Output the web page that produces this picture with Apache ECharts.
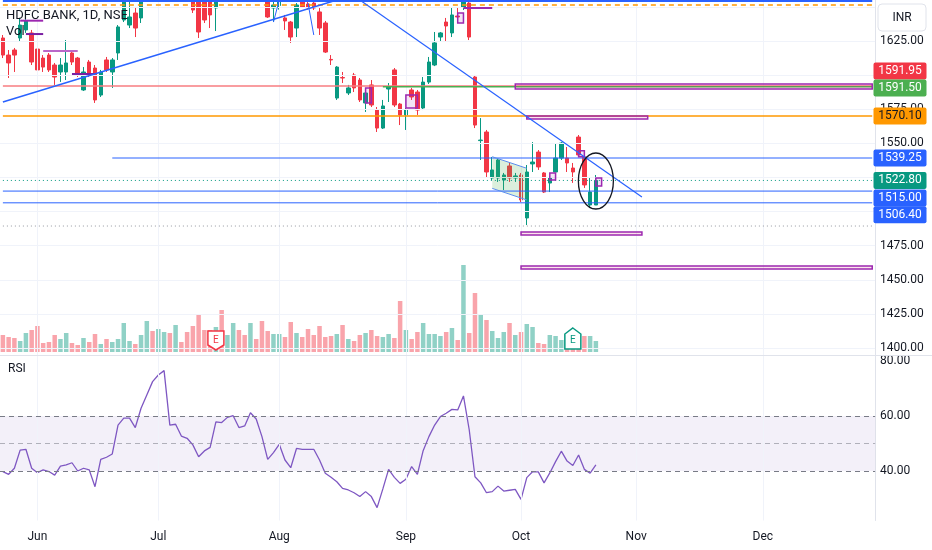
<!DOCTYPE html>
<html><head><meta charset="utf-8">
<script src="https://cdn.jsdelivr.net/npm/echarts@6/dist/echarts.min.js"></script>
<style>html,body{margin:0;padding:0;background:#fff}#c{width:932px;height:550px}</style>
</head><body><div id="c"></div>
<script>
// ---------- DATA ----------
const slotCount = 152;
const categories = Array.from({length: slotCount}, (_, k) => 'D' + k);
const monthTicks = [[6,'Jun'],[27,'Jul'],[48,'Aug'],[70,'Sep'],[90,'Oct'],[110,'Nov'],[132,'Dec']];
const priceTicks = [1400,1425,1450,1475,1550,1575,1625];
const priceGrid = [1400,1425,1450,1475,1500,1525,1550,1575,1600,1625,1650];
const rsiTicks = [40,60,80];

// [open, close, low, high]
const candles = [
[1627.2,1614.7,1612.5,1629.4],
[1614.7,1608.9,1597.9,1618.4],[1618.4,1614.7,1602.3,1619.9],[1627.2,1636.7,1624.3,1641.9],[1633.1,1639.7,1630.9,1641.9],
[1630.9,1609.6,1607.4,1633.1],[1619.1,1603.8,1600.1,1620.6],[1612.5,1605.9,1602.3,1614.7],[1614.7,1603.8,1602.3,1616.2],
[1607.4,1598.6,1592.8,1608.9],[1602.3,1607.4,1595.0,1612.5],[1602.3,1608.9,1596.4,1625.7],[1616.2,1609.6,1607.4,1618.4],
[1612.5,1600.1,1598.6,1613.3],[1589.1,1602.3,1588.4,1605.9],[1609.6,1601.6,1598.6,1611.1],[1605.2,1581.8,1579.6,1607.4],
[1585.4,1602.3,1584.0,1603.8],[1611.1,1603.8,1602.3,1613.3],[1602.3,1611.1,1590.6,1612.5],[1616.2,1635.3,1611.1,1636.7],
[1640.4,1660.9,1638.9,1664.0],[1636.7,1642.6,1634.5,1657.2],[1645.5,1634.5,1627.9,1649.2],[1641.9,1658.7,1638.2,1662.0],
[1660,1675,1657,1679],[1690,1684,1678,1694],[1684,1696,1681,1700],[1696,1705,1692,1712],
[1706,1672,1668,1709],[1668,1674,1664,1680],[1674,1666,1661,1678],[1668,1663,1657.5,1671],
[1663,1647.7,1645.5,1666],[1660,1631.6,1627.2,1662],[1657,1640.4,1638.2,1660],[1658,1644.1,1634.5,1661],
[1649.2,1662,1632.3,1665],[1668,1661,1657,1671],[1661,1667,1658,1670],[1667,1670,1664,1674],
[1670,1660,1657,1672],[1664,1662,1658,1667],[1662,1672,1660,1676],[1673,1668,1664,1677],
[1668,1658,1656,1670],[1660,1642.6,1641.9,1663],[1649.2,1651.4,1638.9,1656],[1651,1654,1648,1659],
[1641.9,1639.7,1633.1,1644.1],[1638.9,1627.9,1623.6,1639.7],[1634.5,1651.4,1627.9,1652.8],[1655.1,1650.0,1649.2,1657],
[1652.1,1649.2,1648,1654],[1652.8,1649.2,1647.7,1654.5],[1646.3,1634.5,1629.4,1649.2],[1638.2,1616.9,1616.2,1639.7],
[1611.5,1611.1,1607.4,1614.7],[1583.2,1605.9,1581.8,1606.6],[1598.2,1597.9,1594.2,1602.3],[1586.9,1590.6,1585.4,1592.8],
[1600.1,1590.6,1587.6,1601.6],[1596.4,1581.8,1580.3,1597.9],[1579.6,1586.9,1573.0,1588.4],[1592.8,1578.1,1576.6,1596.4],
[1574.4,1561.2,1558.3,1576.6],[1561.2,1577.4,1560.5,1581.8],[1589.8,1591.3,1580.3,1594.2],[1603.8,1578.1,1576.6,1605.2],
[1578.8,1570.8,1563.4,1579.6],[1570.8,1574.4,1559.8,1575.9],[1589.1,1584.0,1581.8,1590.6],[1587.6,1574.4,1570.8,1589.1],
[1575.9,1594.9,1574.4,1598.6],[1594.9,1609.6,1593.5,1613.3],[1607.4,1623.6,1606.6,1631.6],[1627.9,1630.9,1624.3,1631.6],
[1638.9,1636.0,1624.3,1641.9],[1630.9,1644.1,1627.9,1649.9],[1643.3,1642.6,1638.2,1649.2],[1649.9,1657.0,1647.7,1659],
[1652.8,1627.9,1625.7,1656],[1598.6,1563.4,1561.2,1600.1],[1552.0,1552.4,1537.8,1568.5],[1558.3,1529.0,1524.6,1559.8],
[1524.6,1530.5,1523.1,1540.0],[1524.6,1537.8,1521.7,1539.2],[1523.1,1526.8,1515.8,1528.3],[1533.4,1524.6,1521.7,1535.6],
[1524.6,1526.1,1521.7,1528.3],[1526.8,1508.5,1507.0,1528.3],[1495.3,1529.0,1490.1,1534.1],[1534.9,1536.3,1529.0,1550.9],
[1543.6,1532.7,1530.5,1545.1],[1528.3,1514.3,1513.6,1529.0],[1520.9,1524.6,1514.3,1526.1],[1529.0,1539.2,1529.0,1550.2],
[1539.2,1550.2,1537.8,1550.9],[1539.2,1535.6,1529.0,1547.3],[1531.9,1529.0,1521.0,1535.6],[1554.6,1541.5,1540.0,1556.1],
[1540.0,1519.5,1517.3,1541.5],[1504.8,1514.3,1503.3,1524.6],[1504.8,1522.8,1504.8,1526.8]
];

// volume (millions)
const volumes = [10.2,9.0,8.4,6.6,11.4,13.2,15.6,5.4,6.0,10.2,7.8,11.4,5.4,4.2,8.4,6.0,10.8,4.8,7.8,6.0,7.8,17.4,6.6,4.8,10.2,
18.6,12.6,13.8,12.0,11.4,16.2,6.0,12.0,15.6,22.2,13.2,13.2,15.0,25.2,10.2,17.4,13.2,10.2,17.4,7.8,18.6,12.6,10.8,10.8,9.0,
18.0,11.4,9.0,13.8,10.2,15.6,9.0,9.6,10.8,16.2,7.8,6.6,10.2,11.4,13.2,9.6,9.0,10.8,8.4,30.6,13.2,7.8,12.0,17.4,10.8,10.8,
9.6,12.0,14.4,7.2,52.2,11.4,35.4,22.8,19.2,12.6,8.4,12.0,17.4,10.2,12.0,16.8,15.0,5.4,4.8,10.2,9.6,7.2,10.8,10.8,9.6,9.6,9.6,6.6];

const rsiValues = [39.8,38.8,41.0,47.6,47.9,41.0,39.4,40.4,39.8,38.5,41.8,42.2,43.0,40.0,41.0,40.4,34.3,44.2,45.0,46.2,
56.7,59.2,59.2,55.8,62.8,67.6,72.5,74.9,76.5,56.7,57.0,52.7,51.9,49.5,45.2,47.3,48.6,57.9,57.6,59.5,60.1,55.8,56.4,61.2,
58.9,52.5,44.2,46.7,49.7,44.0,41.2,48.2,47.9,47.9,47.9,44.0,39.2,37.7,36.1,33.7,33.1,32.1,30.7,32.5,30.7,26.7,33.5,40.6,
37.7,35.5,37.0,41.6,38.8,47.4,52.5,56.7,59.8,61.0,62.4,62.2,67.3,55.0,37.9,35.7,32.1,32.5,34.5,32.7,33.0,33.3,29.7,37.6,
39.7,39.7,35.7,39.3,43.4,47.2,43.6,42.0,45.8,40.6,39.2,42.2];

// drawings (slot index, price)
const hLines = [
  {p:1654.3, j0:-0.5, j1:151.0, color:'#2962ff', w:2},
  {p:1651.4, j0:-0.5, j1:151.0, color:'#ff9800', w:1.5, dash:[5,4]},
  {p:1591.95, j0:-0.5, j1:151.0, color:'#f77c80', w:1.5},
  {p:1591.50, j0:66.1, j1:151.0, color:'#4caf50', w:1.5},
  {p:1570.10, j0:-0.5, j1:151.0, color:'#ff9800', w:1.5},
  {p:1539.25, j0:18.6, j1:151.0, color:'#2962ff', w:1},
  {p:1522.80, j0:-0.5, j1:151.0, color:'#089981', w:1, dash:[1,3]},
  {p:1515.00, j0:-0.5, j1:151.0, color:'#2962ff', w:1},
  {p:1506.40, j0:-0.5, j1:151.0, color:'#2962ff', w:1},
  {p:1489.4, j0:-0.5, j1:151.0, color:'#9598a1', w:1, dash:[1,3]}
];
const segments = [
  {j0:2.9, p0:1639.9, j1:6.9, p1:1639.9, color:'#9c27b0', w:2},
  {j0:3.8, p0:1630.1, j1:6.9, p1:1630.1, color:'#7b1fa2', w:2},
  {j0:6.9, p0:1617.7, j1:12.9, p1:1617.7, color:'#ba68c8', w:2},
  {j0:12.1, p0:1600.8, j1:16.4, p1:1600.8, color:'#7b1fa2', w:2},
  {j0:80.1, p0:1649.2, j1:85.3, p1:1649.2, color:'#9c27b0', w:2},
  {j0:-0.07, p0:1580.3, j1:57.6, p1:1655.05, color:'#2962ff', w:1.5},
  {j0:61.7, p0:1655.05, j1:111.1, p1:1510.6, color:'#2962ff', w:1.2},
  {j0:46.9, p0:1638.9, j1:48.4, p1:1655.05, color:'#2962ff', w:1},
  {j0:53.1, p0:1652.8, j1:54.0, p1:1629.4, color:'#2962ff', w:1}
];
const bands = [
  {j0:89.1, j1:150.9, p0:1593.5, p1:1589.8},
  {j0:91.2, j1:112.2, p0:1570.1, p1:1567.8},
  {j0:90.0, j1:111.3, p0:1485.0, p1:1482.8},
  {j0:90.0, j1:150.9, p0:1460.1, p1:1457.9}
];
const boxes = [
  {j0:79.1, j1:80.2, p0:1645.5, p1:1638.2},
  {j0:62.8, j1:64.0, p0:1590.6, p1:1579.6},
  {j0:70.1, j1:72.2, p0:1585.4, p1:1575.9},
  {j0:95.2, j1:96.1, p0:1528.3, p1:1523.1},
  {j0:100.1, j1:101.3, p0:1544.6, p1:1540.2},
  {j0:103.3, j1:104.4, p0:1524.6, p1:1518.7}
];
const flag = [[85.1,1540.2],[91.1,1531.7],[90.6,1508.5],[85.1,1517.0]];
const circleMark = {j:103.0, p:1522.4};
const earnings = [{j:37, kind:'past'}, {j:99, kind:'next'}];
const priceTags = [
  {v:1591.95, bg:'#f23645', fg:'#ffffff'},
  {v:1591.50, bg:'#4caf50', fg:'#ffffff'},
  {v:1570.10, bg:'#ff9800', fg:'#131722'},
  {v:1539.25, bg:'#2962ff', fg:'#ffffff'},
  {v:1522.80, bg:'#089981', fg:'#ffffff'},
  {v:1515.00, bg:'#2962ff', fg:'#ffffff'},
  {v:1506.40, bg:'#2962ff', fg:'#ffffff'}
];
// label stacking offsets (px) to avoid overlap, like the reference
const tagNudge = [-15, 1.3, 0, 0, 0, 7, 12];

// ---------- CHART ----------
const UP = '#089981', DOWN = '#f23645';
const FONT = 'Roboto, "Liberation Sans", sans-serif';
const chart = echarts.init(document.getElementById('c'));
const gridBox = {left: -2.5, right: 56.9};
const monthIdx = monthTicks.map(m => m[0]);
const monthName = Object.fromEntries(monthTicks);
const emptyLine = categories.map(() => null);

chart.setOption({
  animation: false,
  backgroundColor: '#ffffff',
  grid: [
    Object.assign({top: 0, height: 355.5}, gridBox),
    Object.assign({top: 262, height: 90}, gridBox),
    Object.assign({top: 355.5, height: 165}, gridBox)
  ],
  xAxis: [0,1,2].map(g => ({
    type: 'category', gridIndex: g, data: categories, boundaryGap: true,
    show: g === 2,
    axisLine: {show: false},
    axisTick: {show: false},
    splitLine: {show: false},
    axisLabel: {
      interval: (idx) => monthIdx.includes(idx),
      formatter: (v, idx) => monthName[idx] || '',
      color: '#131722', fontSize: 12, fontFamily: FONT, margin: 10
    }
  })),
  yAxis: [
    {type: 'value', gridIndex: 0, position: 'right', min: 1394.5, max: 1655.05, scale: true,
     axisLine: {show: true, lineStyle: {color: '#e0e3eb'}}, axisTick: {show: false}, splitLine: {show: false},
     axisLabel: {customValues: priceTicks, formatter: v => v.toFixed(2), color: '#131722', fontSize: 12, fontFamily: FONT, margin: 5}},
    {type: 'value', gridIndex: 1, min: 0, max: 54, show: false, splitLine: {show: false}},
    {type: 'value', gridIndex: 2, position: 'right', min: 22, max: 82,
     axisLine: {show: true, lineStyle: {color: '#e0e3eb'}}, axisTick: {show: false}, splitLine: {show: false},
     axisLabel: {customValues: rsiTicks, formatter: v => v.toFixed(2), color: '#131722', fontSize: 12, fontFamily: FONT, margin: 5}}
  ],
  series: [
    {type: 'line', xAxisIndex: 0, yAxisIndex: 0, data: emptyLine, z: 0, silent: true, symbol: 'none',
     markLine: {silent: true, symbol: 'none', label: {show: false}, animation: false,
       lineStyle: {color: '#f0f3fa', width: 1, type: 'solid'},
       data: priceGrid.map(v => ({yAxis: v})).concat(monthIdx.map(k => ({xAxis: k})))}},
    {type: 'line', xAxisIndex: 2, yAxisIndex: 2, data: emptyLine, z: 0, silent: true, symbol: 'none',
     markLine: {silent: true, symbol: 'none', label: {show: false}, animation: false,
       lineStyle: {color: '#f0f3fa', width: 1, type: 'solid'},
       data: monthIdx.map(k => ({xAxis: k}))}},
    {type: 'bar', xAxisIndex: 1, yAxisIndex: 1, barWidth: 4.5, z: 1, silent: true,
     data: volumes.map((v, k) => ({value: v, itemStyle: {color: candles[k][1] >= candles[k][0] ? 'rgba(8,153,129,0.45)' : 'rgba(242,54,69,0.45)'}}))},
    {type: 'candlestick', xAxisIndex: 0, yAxisIndex: 0, barWidth: 4, z: 3, clip: true,
     itemStyle: {color: UP, color0: DOWN, borderColor: UP, borderColor0: DOWN, borderWidth: 1},
     data: candles},
    {type: 'line', xAxisIndex: 2, yAxisIndex: 2, data: rsiValues, symbol: 'none', z: 3,
     lineStyle: {color: '#7e57c2', width: 1.3},
     markArea: {silent: true, itemStyle: {color: 'rgba(126,87,194,0.09)'}, data: [[{yAxis: 40}, {yAxis: 60}]]},
     markLine: {silent: true, symbol: 'none', label: {show: false},
       data: [
         {yAxis: 60, lineStyle: {color: '#787b86', type: [5,4], width: 1}},
         {yAxis: 50, lineStyle: {color: 'rgba(120,123,134,0.55)', type: [5,4], width: 1}},
         {yAxis: 40, lineStyle: {color: '#787b86', type: [5,4], width: 1}}
       ]}}
  ]
});

// ---------- DRAWINGS (placed through the axes) ----------
const px = (g, j, p) => chart.convertToPixel({gridIndex: g}, [j, p]);
const G = [];
hLines.forEach(l => {
  const a = px(0, l.j0, l.p), b = px(0, l.j1, l.p);
  G.push({type: 'line', z: 20, silent: true, shape: {x1: a[0], y1: a[1], x2: b[0], y2: b[1]},
    style: {stroke: l.color, lineWidth: l.w, lineDash: l.dash || null}});
});
bands.forEach(r => {
  const a = px(0, r.j0, r.p0), b = px(0, r.j1, r.p1);
  G.push({type: 'rect', z: 21, silent: true, shape: {x: a[0], y: a[1], width: b[0] - a[0], height: b[1] - a[1]},
    style: {fill: 'rgba(233,30,99,0.12)', stroke: '#9c27b0', lineWidth: 1.5}});
});
boxes.forEach(r => {
  const a = px(0, r.j0, r.p0), b = px(0, r.j1, r.p1);
  G.push({type: 'rect', z: 21, silent: true, shape: {x: a[0], y: a[1], width: b[0] - a[0], height: b[1] - a[1]},
    style: {fill: 'rgba(156,39,176,0.12)', stroke: '#9c27b0', lineWidth: 1.5}});
});
{
  const pts = flag.map(q => px(0, q[0], q[1]));
  G.push({type: 'polygon', z: 19, silent: true, shape: {points: pts}, style: {fill: 'rgba(76,175,80,0.2)', stroke: 'none'}});
  G.push({type: 'line', z: 20, silent: true, shape: {x1: pts[0][0], y1: pts[0][1], x2: pts[1][0], y2: pts[1][1]}, style: {stroke: '#5b8def', lineWidth: 1}});
  G.push({type: 'line', z: 20, silent: true, shape: {x1: pts[3][0], y1: pts[3][1], x2: pts[2][0], y2: pts[2][1]}, style: {stroke: '#5b8def', lineWidth: 1}});
}
segments.forEach(s => {
  const a = px(0, s.j0, s.p0), b = px(0, s.j1, s.p1);
  G.push({type: 'line', z: 22, silent: true, shape: {x1: a[0], y1: a[1], x2: b[0], y2: b[1]}, style: {stroke: s.color, lineWidth: s.w}});
});
{
  const c = px(0, circleMark.j, circleMark.p);
  G.push({type: 'ellipse', z: 23, silent: true, shape: {cx: c[0], cy: c[1], rx: 17.5, ry: 28}, style: {fill: 'none', stroke: '#131722', lineWidth: 1.3}});
}
earnings.forEach(e => {
  const b = px(1, e.j, 0);
  const x = b[0], base = b[1];
  let pts, col;
  if (e.kind === 'past') {
    col = '#f23645';
    pts = [[x - 8, base - 21], [x + 8, base - 21], [x + 8, base - 7], [x, base - 2], [x - 8, base - 7]];
  } else {
    col = '#089981';
    pts = [[x, base - 24], [x + 8, base - 18], [x + 8, base - 3], [x - 8, base - 3], [x - 8, base - 18]];
  }
  G.push({type: 'polygon', z: 24, silent: true, shape: {points: pts}, style: {fill: '#ffffff', stroke: col, lineWidth: 1.5}});
  G.push({type: 'text', z: 25, silent: true, x: x, y: base - 12, style: {text: 'E', fill: col, font: '10px ' + FONT, align: 'center', verticalAlign: 'middle'}});
});
// price tags on the scale
priceTags.forEach((t, k) => {
  const y = px(0, 0, t.v)[1] + tagNudge[k];
  G.push({type: 'rect', z: 40, silent: true, shape: {x: 873.5, y: y - 8.5, width: 53, height: 17, r: 2}, style: {fill: t.bg}});
  G.push({type: 'text', z: 41, silent: true, x: 900, y: y, style: {text: t.v.toFixed(2), fill: t.fg, font: '12px ' + FONT, align: 'center', verticalAlign: 'middle'}});
});
// currency box, pane titles, separators
G.push({type: 'rect', z: 40, silent: true, shape: {x: 878, y: 4, width: 48, height: 27, r: 4}, style: {fill: '#ffffff', stroke: '#e0e3eb', lineWidth: 1}});
G.push({type: 'text', z: 41, silent: true, x: 902, y: 18, style: {text: 'INR', fill: '#131722', font: '12px ' + FONT, align: 'center', verticalAlign: 'middle'}});
G.push({type: 'line', z: 30, silent: true, shape: {x1: 0, y1: 355.5, x2: 932, y2: 355.5}, style: {stroke: '#e0e3eb', lineWidth: 1}});
G.push({type: 'text', z: 50, silent: true, x: 6, y: 16, style: {text: 'HDFC BANK, 1D, NSE', fill: '#131722', font: '13px ' + FONT, verticalAlign: 'middle'}});
G.push({type: 'text', z: 50, silent: true, x: 6, y: 32, style: {text: 'Vol', fill: '#131722', font: '13px ' + FONT, verticalAlign: 'middle'}});
G.push({type: 'text', z: 50, silent: true, x: 8, y: 369, style: {text: 'RSI', fill: '#131722', font: '12px ' + FONT, verticalAlign: 'middle'}});

chart.setOption({graphic: G});
</script>
</body></html>
